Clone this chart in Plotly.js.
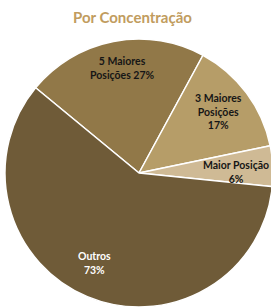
<!DOCTYPE html>
<html>
<head>
<meta charset="utf-8">
<script src="https://cdn.plot.ly/plotly-3.0.1.min.js"></script>
<style>
html,body{margin:0;padding:0;overflow:hidden;background:#fff;}
#chart{width:273px;height:308px;}
</style>
</head>
<body>
<div id="chart"></div>
<script>
// Data
var categories = ["5 Maiores Posições", "3 Maiores Posições", "Maior Posição", "Outros"];
var values = [27, 17, 6, 73];
var labelHead = ["5 Maiores<br>Posições", "3 Maiores<br>Posições", "Maior Posição", "Outros"];
var labelSep = [" ", "<br>", "<br>", "<br>"];
var titleText = "Por Concentração";

// Styling
var colors = ["#917848", "#b69d68", "#cfba95", "#6f5b38"];
var textColors = ["#161616", "#161616", "#161616", "#ffffff"];
var labelPx = [[122, 68], [218, 111], [236, 172], [94, 263]];

var W = 273, H = 308, mL = 5, mR = 0, mT = 39, mB = 1;
var pw = W - mL - mR, ph = H - mT - mB;
function px2paper(p) { return {x: (p[0] - mL) / pw, y: (H - mB - p[1]) / ph}; }

var annotations = categories.map(function (c, i) {
  var p = px2paper(labelPx[i]);
  var lines = (labelHead[i] + labelSep[i] + values[i] + "%").split("<br>");
  return {
    xref: "paper", yref: "paper", x: p.x, y: p.y,
    xanchor: "center", yanchor: "middle", showarrow: false,
    text: lines.map(function (l) { return "<b>" + l + "</b>"; }).join("<br>"),
    font: {family: "Lato, 'Open Sans', sans-serif", size: 10.5, color: textColors[i]}
  };
});

var trace = {
  type: "pie",
  labels: categories,
  values: values,
  sort: false,
  direction: "clockwise",
  rotation: -50.5,
  textinfo: "none",
  hoverinfo: "none",
  marker: {colors: colors, line: {color: "#ffffff", width: 1.5}},
  showlegend: false
};

var layout = {
  width: W, height: H,
  margin: {l: mL, r: mR, t: mT, b: mB},
  paper_bgcolor: "#ffffff",
  title: {
    text: "<b>" + titleText + "</b>",
    font: {family: "Lato, 'Open Sans', sans-serif", size: 15, color: "#c19c5e"},
    xref: "container", yref: "container",
    x: 132.5 / W, y: 1 - 18 / H, xanchor: "center", yanchor: "middle"
  },
  annotations: annotations
};

Plotly.newPlot("chart", [trace], layout, {staticPlot: true, displayModeBar: false});
</script>
</body>
</html>
